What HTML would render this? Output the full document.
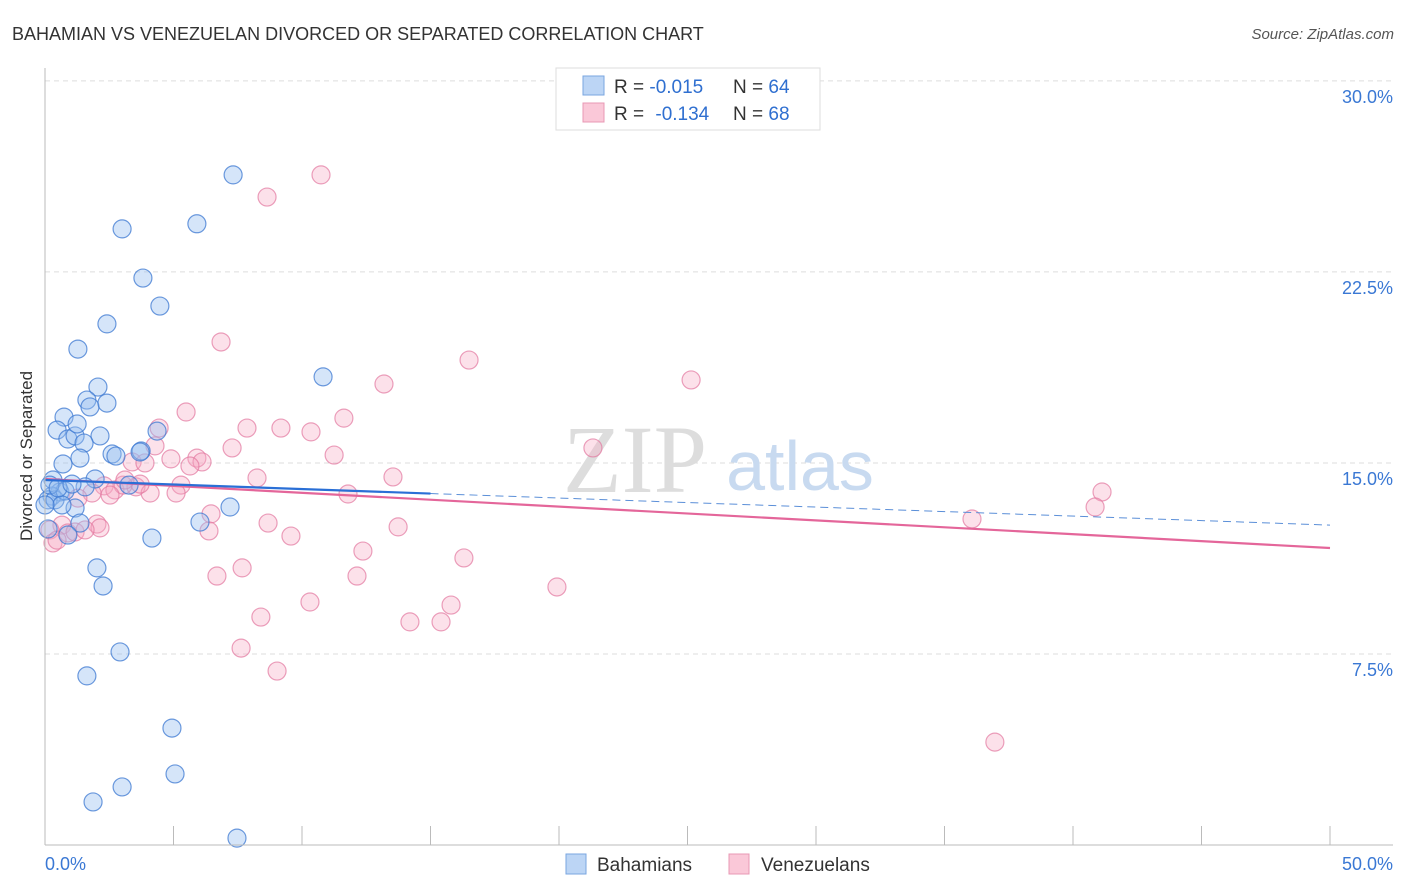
<!DOCTYPE html>
<html><head><meta charset="utf-8"><style>
body{margin:0;background:#fff;font-family:"Liberation Sans",sans-serif;}
svg{display:block}
</style></head><body>
<svg id="chart" width="1406" height="892">
<text x="12" y="40" font-size="18" fill="#333">BAHAMIAN VS VENEZUELAN DIVORCED OR SEPARATED CORRELATION CHART</text>
<text x="1394" y="39" font-size="15" fill="#555" font-style="italic" text-anchor="end">Source: ZipAtlas.com</text>
<text x="32" y="456" font-size="17" fill="#333" text-anchor="middle" transform="rotate(-90 32 456)">Divorced or Separated</text>
<g id="grid"></g>
<g id="watermark">
<text x="635" y="492" font-size="96" fill="#ddd" font-family="Liberation Serif,serif" text-anchor="middle">ZIP</text>
<text x="800" y="490" font-size="70" fill="#c8daf0" text-anchor="middle">atlas</text>
</g>
<g id="pts"></g>
<g id="lines"></g>
<g id="axes"></g>
<g>
<rect x="556" y="68" width="264" height="62" fill="#fff" stroke="#ddd"/>
<rect x="583" y="76" width="21" height="19" fill="#bcd5f5" stroke="#7aa6e0"/>
<rect x="583" y="103" width="21" height="19" fill="#fac8d8" stroke="#e898b4"/>
<text x="614" y="93" font-size="19" fill="#333">R = <tspan fill="#2f6fd0">-0.015</tspan><tspan x="733">N = </tspan><tspan fill="#2f6fd0">64</tspan></text>
<text x="614" y="120" font-size="19" fill="#333">R = <tspan fill="#2f6fd0" dx="6">-0.134</tspan><tspan x="733">N = </tspan><tspan fill="#2f6fd0">68</tspan></text>
</g>
<g>
<rect x="566" y="854" width="20" height="20" fill="#bcd5f5" stroke="#7aa6e0"/>
<text x="597" y="871" font-size="19" fill="#333">Bahamians</text>
<rect x="729" y="854" width="20" height="20" fill="#fac8d8" stroke="#e898b4"/>
<text x="761" y="871" font-size="19" fill="#333">Venezuelans</text>
</g>
</svg>
<script>
const blueX=[7.32,3.00,5.91,3.81,4.47,2.41,1.28,2.06,10.82,0.74,1.63,1.75,2.41,0.47,0.89,1.17,1.25,2.14,1.52,4.36,2.61,2.76,3.74,1.36,0.70,0.31,1.95,1.56,3.27,0.58,0.27,0.12,0.39,0.78,1.17,0.66,7.20,1.36,6.03,0.89,4.16,2.02,2.26,2.92,1.63,4.94,5.06,3.00,1.87,7.47,0.19,0.0,0.51,1.05,3.70,0.12];
const blueY=[26.31,24.19,24.39,22.26,21.16,20.46,19.47,17.98,18.38,16.80,17.47,17.20,17.35,16.29,15.94,16.06,16.53,16.06,15.78,16.25,15.35,15.27,15.47,15.19,14.96,14.33,14.37,14.06,14.13,13.86,13.70,13.55,13.55,13.90,13.23,13.35,13.27,12.64,12.68,12.17,12.05,10.88,10.17,7.58,6.64,4.59,2.79,2.28,1.69,0.27,14.13,13.35,14.02,14.17,15.43,12.41];
const pinkX=[10.74,8.64,16.50,6.85,13.19,25.14,5.49,11.63,7.86,9.18,10.35,4.44,4.28,7.28,11.25,4.90,5.91,3.39,3.89,6.11,5.64,21.32,13.54,8.25,5.29,3.54,2.30,2.72,3.04,4.09,5.10,1.83,1.28,11.79,41.13,40.86,36.07,6.46,8.68,2.02,2.14,13.74,6.38,9.57,0.66,0.89,0.19,0.31,12.37,16.30,7.67,6.69,12.14,19.92,10.31,15.80,8.40,14.20,15.41,7.63,9.03,36.96,1.17,0.47,3.70,3.11,2.53,1.56];
const pinkY=[26.31,25.44,19.04,19.75,18.10,18.26,17.00,16.76,16.37,16.37,16.22,16.37,15.67,15.59,15.31,15.16,15.19,15.04,15.00,15.04,14.88,15.59,14.45,14.41,14.13,14.06,14.10,13.94,14.13,13.82,13.82,13.82,13.62,13.78,13.86,13.27,12.80,13.00,12.64,12.60,12.45,12.49,12.33,12.13,12.56,12.25,12.37,11.86,11.54,11.27,10.88,10.56,10.56,10.13,9.54,9.42,8.95,8.76,8.76,7.73,6.83,4.04,12.29,11.97,14.17,14.33,13.74,12.37];
const blueTrend=[14.33,12.56]; // y at x=0 and x=50
const pinkTrend=[14.37,11.66];
const yTicks=[7.5,15.0,22.5,30.0];
const yTickLabels=["7.5%","15.0%","22.5%","30.0%"];
const xTicks=[0,5,10,15,20,25,30,35,40,45,50];

const NS="http://www.w3.org/2000/svg";
const X=v=>45+v*25.7, Y=v=>845-v*25.47;
function mk(tag,attrs,parent){const e=document.createElementNS(NS,tag);for(const k in attrs)e.setAttribute(k,attrs[k]);parent.appendChild(e);return e;}
const grid=document.getElementById('grid'),axes=document.getElementById('axes'),pts=document.getElementById('pts'),lines=document.getElementById('lines');
yTicks.forEach((t,i)=>{
  const l=mk('line',{x1:45,x2:1393,y1:Y(t),y2:Y(t),stroke:'#ddd','stroke-dasharray':'5,4'},grid);
  
  
  const tx=mk('text',{x:1393,y:Y(t)+22,'font-size':18,fill:'#3a78d4','text-anchor':'end'},axes);
  tx.textContent=yTickLabels[i];
  
  
});
mk('line',{x1:45,x2:45,y1:68,y2:845,stroke:'#bbb'},axes);
mk('line',{x1:45,x2:1393,y1:845,y2:845,stroke:'#bbb'},axes);
xTicks.forEach(t=>{
  const l=mk('line',{x1:X(t),x2:X(t),y1:826,y2:845,stroke:'#bbb'},axes);
  
  
});
const x0=mk('text',{x:45,y:870,'font-size':18,fill:'#3a78d4'},axes);x0.textContent='0.0%';


const x1=mk('text',{x:1393,y:870,'font-size':18,fill:'#3a78d4','text-anchor':'end'},axes);x1.textContent='50.0%';


pinkX.forEach((v,i)=>{
  const c=mk('circle',{cx:X(v),cy:Y(pinkY[i]),r:9,fill:'rgba(246,170,196,0.35)',stroke:'rgba(226,120,160,0.7)','stroke-width':1.2},pts);
  
  
});
blueX.forEach((v,i)=>{
  const c=mk('circle',{cx:X(v),cy:Y(blueY[i]),r:9,fill:'rgba(150,190,240,0.4)',stroke:'rgba(60,120,210,0.75)','stroke-width':1.2},pts);
  
  
});
const bAt=x=>blueTrend[0]+(blueTrend[1]-blueTrend[0])*x/50;
const pl=mk('line',{x1:X(0),y1:Y(pinkTrend[0]),x2:X(50),y2:Y(pinkTrend[1]),stroke:'#e4669a','stroke-width':2.2},lines);


const bd=mk('line',{x1:X(15),y1:Y(bAt(15)),x2:X(50),y2:Y(bAt(50)),stroke:'#5b8fd8','stroke-width':1,'stroke-dasharray':'8,5'},lines);


const bl=mk('line',{x1:X(0),y1:Y(bAt(0)),x2:X(15),y2:Y(bAt(15)),stroke:'#2a6fd6','stroke-width':2.2},lines);


</script>
</body></html>
